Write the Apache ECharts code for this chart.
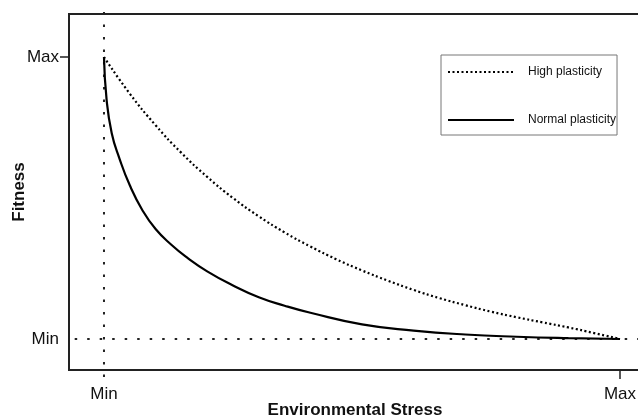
<!DOCTYPE html>
<html>
<head>
<meta charset="utf-8">
<script src="https://cdn.jsdelivr.net/npm/echarts@6/dist/echarts.min.js"></script>
<style>
  html, body { margin: 0; padding: 0; background: #fff; }
  #chart { width: 638px; height: 415px; }
</style>
</head>
<body>
<div id="chart"></div>
<script>
// stress scale: 0 = Min, 1 = Max ; fitness scale: 0 = Min, 1 = Max
const tickLabels = ['Min', 'Max']

const stressHigh = [0, 0.05, 0.1, 0.15, 0.2, 0.25, 0.3, 0.35, 0.4, 0.45, 0.5, 0.55, 0.6, 0.65, 0.7, 0.75, 0.8, 0.85, 0.9, 0.95, 1]
const fitnessHigh = [1, 0.87, 0.758, 0.66, 0.575, 0.5, 0.435, 0.378, 0.328, 0.283, 0.243, 0.207, 0.174, 0.145, 0.12, 0.097, 0.077, 0.059, 0.041, 0.021, 0]

const stressNormal = [0, 0.005, 0.015, 0.03, 0.05, 0.075, 0.1, 0.13, 0.16, 0.2, 0.25, 0.3, 0.35, 0.4, 0.5, 0.6, 0.7, 0.8, 0.9, 1]
const fitnessNormal = [1, 0.85, 0.73, 0.64, 0.545, 0.455, 0.39, 0.335, 0.29, 0.24, 0.19, 0.148, 0.118, 0.093, 0.052, 0.03, 0.016, 0.008, 0.003, 0]

// dotted guide lines through Min / Min
const guideMinStress = [[0, 1.16], [0, -0.145]]
const guideMinFitness = [[-0.081, 0], [1.06, 0]]

const pairs = (xs, ys) => xs.map((x, i) => [x, ys[i]])

const chart = echarts.init(document.getElementById('chart'))

const axisFont = { fontFamily: 'Liberation Sans', fontSize: 17, color: '#111' }

chart.setOption({
  animation: false,
  grid: {
    left: 69,
    right: -3,
    top: 14,
    bottom: 45,
    outerBoundsMode: 'none',
    containLabel: false,
    show: true,
    borderColor: '#222',
    borderWidth: 2
  },
  legend: {
    orient: 'vertical',
    left: 441,
    top: 55,
    data: ['High plasticity', 'Normal plasticity'],
    itemWidth: 66,
    itemHeight: 14,
    itemGap: 36,
    padding: [11, 1, 9, 6],
    borderColor: '#777',
    borderWidth: 1,
    itemStyle: { opacity: 0 },
    textStyle: { fontFamily: 'Liberation Sans', fontSize: 12, color: '#111', padding: [0, 0, 0, 9] }
  },
  xAxis: {
    type: 'value',
    min: -0.0678,
    max: 1.0407,
    name: 'Environmental Stress',
    nameLocation: 'middle',
    nameGap: 32,
    nameMoveOverlap: false,
    nameTextStyle: { fontFamily: 'Liberation Sans', fontSize: 17, fontWeight: 'bold', color: '#111' },
    splitLine: { show: false },
    axisLine: { show: false, onZero: false },
    axisTick: { show: true, length: 9, customValues: [1], lineStyle: { color: '#222', width: 1.5 } },
    axisLabel: Object.assign({ margin: 16, customValues: [0, 1], formatter: v => tickLabels[Math.round(v)] }, axisFont)
  },
  yAxis: {
    type: 'value',
    min: -0.1099,
    max: 1.1525,
    name: 'Fitness',
    nameLocation: 'middle',
    nameGap: 41,
    nameMoveOverlap: false,
    nameTextStyle: { fontFamily: 'Liberation Sans', fontSize: 17, fontWeight: 'bold', color: '#111' },
    splitLine: { show: false },
    axisLine: { show: false, onZero: false },
    axisTick: { show: true, length: 9, customValues: [1], lineStyle: { color: '#222', width: 1.5 } },
    axisLabel: Object.assign({ margin: 10, customValues: [0, 1], formatter: v => tickLabels[Math.round(v)] }, axisFont)
  },
  series: [
    {
      name: 'guideX',
      type: 'line',
      data: guideMinStress,
      symbol: 'none',
      silent: true,
      clip: false,
      lineStyle: { color: '#222', width: 2, type: [2.5, 10] },
      z: 1
    },
    {
      name: 'guideY',
      type: 'line',
      data: guideMinFitness,
      symbol: 'none',
      silent: true,
      clip: false,
      lineStyle: { color: '#222', width: 2, type: [2.5, 10] },
      z: 1
    },
    {
      name: 'High plasticity',
      type: 'line',
      data: pairs(stressHigh, fitnessHigh),
      symbol: 'none',
      smooth: 0.5,
      lineStyle: { color: '#000', width: 2.2, type: [2, 2.5] },
      itemStyle: { color: '#000' },
      z: 3
    },
    {
      name: 'Normal plasticity',
      type: 'line',
      data: pairs(stressNormal, fitnessNormal),
      symbol: 'none',
      smooth: 0.5,
      lineStyle: { color: '#000', width: 2.2 },
      itemStyle: { color: '#000' },
      z: 3
    }
  ]
})
</script>
</body>
</html>
